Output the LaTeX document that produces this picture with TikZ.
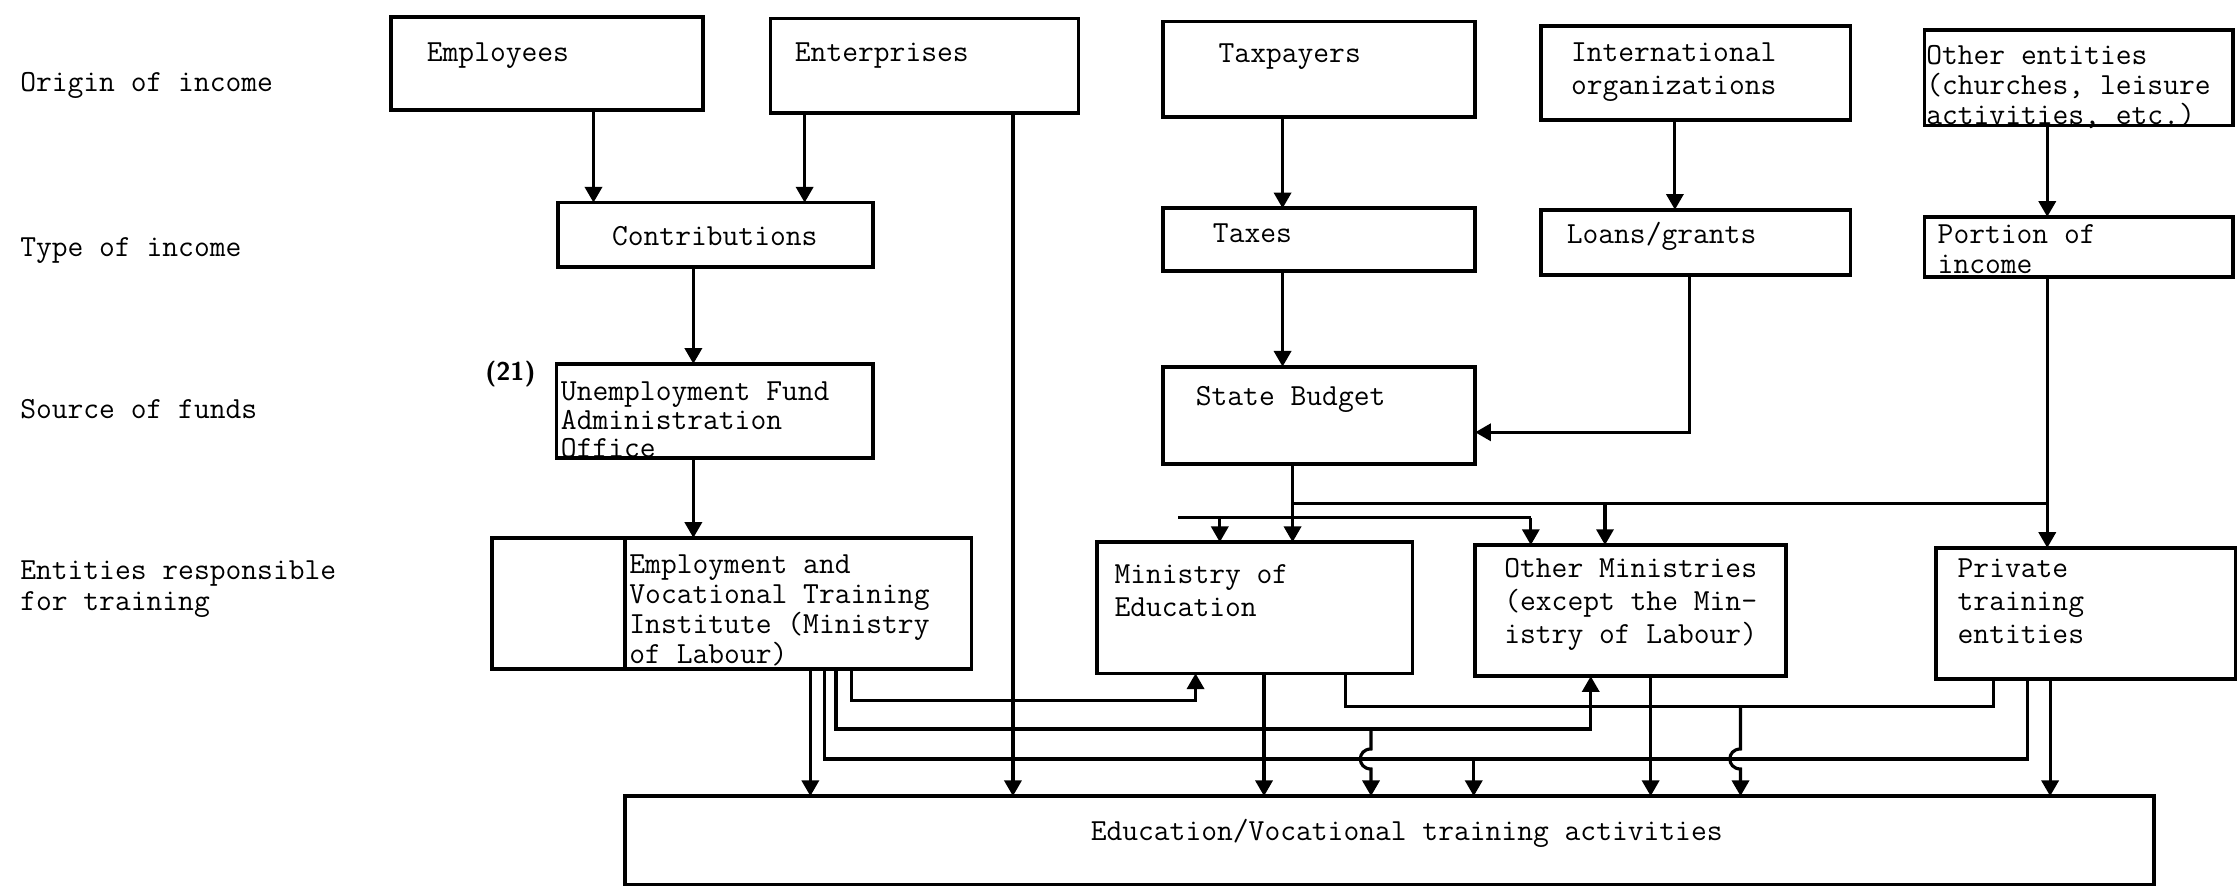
\documentclass[tikz,border=0pt]{standalone}
\usetikzlibrary{arrows.meta}
\newcommand{\lstack}[1]{\begin{tabular}[t]{@{}l@{}}#1\end{tabular}}
\newcommand{\cstack}[1]{\begin{tabular}[t]{@{}c@{}}#1\end{tabular}}
\begin{document}
\begin{tikzpicture}[x=1pt, y=-1pt,
    font=\fontsize{21.5}{23}\selectfont\ttfamily,
    box/.style={draw, line width=2.6pt, anchor=north west, inner sep=0pt, outer sep=0pt},
    txt/.style={anchor=base west, inner sep=0pt},
    flow/.style={line width=2.2pt, -{Triangle[width=12pt,length=11pt]}},
    link/.style={line width=2.2pt}]
  \useasboundingbox (0,0) rectangle (1568,626);

  % row labels
  \node[txt] (lOrigin) at (14,64) {Origin of income};
  \node[txt] (lType) at (14,180) {Type of income};
  \node[txt] (lSource) at (14,293) {Source of funds};
  \node[txt] (lEntities) at (14,406) {\lstack{Entities responsible\\[-1pt]for training}};

  % boxes
  \node[box, minimum width=219pt, minimum height=65pt] (emp) at (274,12) {};
  \node[box, minimum width=216pt, minimum height=66pt] (ent) at (540,13) {};
  \node[box, minimum width=219pt, minimum height=67pt] (taxp) at (815,15) {};
  \node[box, minimum width=217pt, minimum height=66pt] (intl) at (1080,18) {};
  \node[box, minimum width=216pt, minimum height=67pt] (oth) at (1349,21) {};
  \node[box, minimum width=221pt, minimum height=45pt] (contr) at (391,142) {};
  \node[box, minimum width=219pt, minimum height=44pt] (taxes) at (815,146) {};
  \node[box, minimum width=217pt, minimum height=46pt] (loans) at (1080,147) {};
  \node[box, minimum width=216pt, minimum height=42pt] (portion) at (1349,152) {};
  \node[box, minimum width=222pt, minimum height=66pt] (unemp) at (390,255) {};
  \node[box, minimum width=219pt, minimum height=68pt] (budget) at (815,257) {};
  \node[box, minimum width=93pt, minimum height=92pt] (blank) at (345,377) {};
  \node[box, minimum width=243pt, minimum height=92pt] (empl) at (438,377) {};
  \node[box, minimum width=221pt, minimum height=92pt] (mined) at (769,380) {};
  \node[box, minimum width=218pt, minimum height=92pt] (othmin) at (1034,382) {};
  \node[box, minimum width=210pt, minimum height=92pt] (priv) at (1357,384) {};
  \node[box, minimum width=1072pt, minimum height=62pt] (edu) at (438,558) {};

  % box texts
  \node[txt] (tEmp) at (299,43) {Employees};
  \node[txt] (tEnt) at (557,43) {Enterprises};
  \node[txt] (tTaxp) at (854,44) {Taxpayers};
  \node[txt] (tIntl) at (1101,43) {\lstack{International\\organizations}};
  \node[txt] (tOth) at (1350,45) {\lstack{Other entities\\[-2pt](churches, leisure\\[-2pt]activities, etc.)}};
  \node[txt, anchor=base] (tContr) at (501,172) {Contributions};
  \node[txt] (tTaxes) at (850,170) {Taxes};
  \node[txt] (tLoans) at (1098,171) {Loans/grants};
  \node[txt] (tPortion) at (1358,171) {\lstack{Portion of\\[-2pt]income}};
  \node[txt, font=\fontsize{18}{18}\selectfont\sffamily\bfseries] (tRef) at (340,267) {(21)};
  \node[txt] (tUnemp) at (393,281) {\lstack{Unemployment Fund\\[-3pt]Administration\\[-3pt]Office}};
  \node[txt] (tBudget) at (838,284) {State Budget};
  \node[txt] (tEmpl) at (441,402) {\lstack{Employment and\\[-2pt]Vocational Training\\[-2pt]Institute (Ministry\\[-2pt]of Labour)}};
  \node[txt] (tMined) at (781,409) {\lstack{Ministry of\\Education}};
  \node[txt, anchor=base] (tOthmin) at (1143,405) {\cstack{Other Ministries\\(except the Min-\\istry of Labour)}};
  \node[txt] (tPriv) at (1372,405) {\lstack{Private\\training\\entities}};
  \node[txt, anchor=base] (tEdu) at (986,589) {Education/Vocational training activities};

  % origin -> type -> source
  \draw[flow] (emp.south -| 416,0) -- (contr.north -| 416,0);
  \draw[flow] (ent.south -| 564,0) -- (contr.north -| 564,0);
  \draw[flow] (ent.south -| 710,0) -- (edu.north -| 710,0);
  \draw[flow] (contr.south -| 486,0) -- (unemp.north -| 486,0);
  \draw[flow] (unemp.south -| 486,0) -- (empl.north -| 486,0);
  \draw[flow] (taxp.south -| 899,0) -- (taxes.north -| 899,0);
  \draw[flow] (taxes.south -| 899,0) -- (budget.north -| 899,0);
  \draw[flow] (intl.south -| 1174,0) -- (loans.north -| 1174,0);
  \draw[flow] (loans.south -| 1184,0) |- (budget.east |- 0,303);
  \draw[flow] (oth.south -| 1435,0) -- (portion.north -| 1435,0);
  \draw[flow] (portion.south -| 1435,0) -- (priv.north -| 1435,0);

  % state budget to the ministries
  \coordinate (jUp) at (906,353);
  \coordinate (jUpEnd) at (1435,353);
  \coordinate (tUp) at (1125,353);
  \coordinate (jLow) at (826,363);
  \coordinate (jLowEnd) at (1073,363);
  \coordinate (tLow) at (855,363);
  \draw[flow] (budget.south -| jUp) -- (mined.north -| jUp);
  \draw[link] (jUp) -- (jUpEnd);
  \draw[flow] (tUp) -- (othmin.north -| tUp);
  \draw[link] (jLow) -- (jLowEnd);
  \draw[flow] (jLowEnd) -- (othmin.north -| jLowEnd);
  \draw[flow] (tLow) -- (mined.north -| tLow);

  % entities to activities
  \draw[flow] (empl.south -| 568,0) -- (edu.north -| 568,0);
  \draw[flow] (empl.south -| 597,0) |- (838,491) -- (mined.south -| 838,0);
  \draw[flow] (empl.south -| 586,0) |- (1115,511) -- (othmin.south -| 1115,0);
  \draw[link] (empl.south -| 578,0) |- (1421,532) -- (priv.south -| 1421,0);
  \draw[link] (mined.south -| 943,0) |- (1397,495) -- (priv.south -| 1397,0);
  \coordinate (hA) at (961,511);
  \coordinate (tB) at (1033,532);
  \coordinate (hC) at (1220,495);
  \draw[flow] (hA) -- (961,525) .. controls (951,525) and (951,539) .. (961,539) -- (edu.north -| hA);
  \draw[flow] (tB) -- (edu.north -| tB);
  \draw[flow] (hC) -- (1220,525) .. controls (1210,525) and (1210,539) .. (1220,539) -- (edu.north -| hC);
  \draw[flow] (mined.south -| 886,0) -- (edu.north -| 886,0);
  \draw[flow] (othmin.south -| 1157,0) -- (edu.north -| 1157,0);
  \draw[flow] (priv.south -| 1437,0) -- (edu.north -| 1437,0);
\end{tikzpicture}
\end{document}
